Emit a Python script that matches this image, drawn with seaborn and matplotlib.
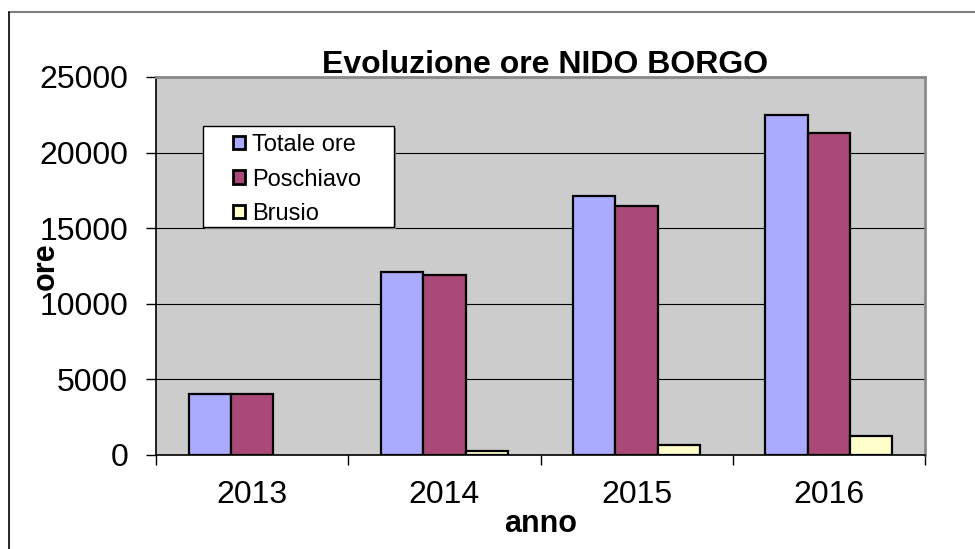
import numpy as np
import pandas as pd
import matplotlib
matplotlib.use("Agg")
import matplotlib.pyplot as plt
from matplotlib.lines import Line2D
from matplotlib.patches import Rectangle
import seaborn as sns

# values
anni = ["2013", "2014", "2015", "2016"]
totale_ore = [4060, 12130, 17120, 22490]
poschiavo = [4060, 11920, 16450, 21270]
brusio = [np.nan, 250, 680, 1270]

serie = ["Totale ore", "Poschiavo", "Brusio"]
colori = ["#AAAAFF", "#AA4977", "#FFFFCC"]

df = pd.DataFrame({
    "anno": anni * 3,
    "ore": totale_ore + poschiavo + brusio,
    "serie": [s for s in serie for _ in anni],
})

sns.set_theme(style="white")
plt.rcParams["font.family"] = ["Liberation Sans", "DejaVu Sans"]
plt.rcParams["text.color"] = "black"
plt.rcParams["xtick.color"] = "black"
plt.rcParams["ytick.color"] = "black"
plt.rcParams["axes.labelcolor"] = "black"

W, H = 975, 549
fig = plt.figure(figsize=(9.75, 5.49), dpi=100)
ax = fig.add_axes([156 / W, 1 - 455 / H, 769 / W, 378 / H])
ax.set_facecolor("#CCCCCC")

sns.barplot(data=df, x="anno", y="ore", hue="serie", hue_order=serie,
            palette=colori, saturation=1, width=0.66, edgecolor="black",
            linewidth=1.6, ax=ax, zorder=3)

ax.set_ylim(0, 25000)
ax.set_yticks(range(0, 25001, 5000))
ax.set_xlim(-0.5, 3.5)
ax.yaxis.grid(True, color="black", linewidth=0.8, zorder=0)
ax.set_axisbelow(True)

# category boundary ticks on x axis
ax.set_xticks(np.arange(-0.5, 4, 1), minor=True)
ax.tick_params(axis="x", which="major", length=0, pad=18, labelsize=23)
ax.tick_params(axis="x", which="minor", length=7, width=1, color="black", direction="out", bottom=True)
ax.tick_params(axis="y", length=7, width=1, color="black", direction="out", left=True, pad=13, labelsize=23)

for s in ["left", "bottom"]:
    ax.spines[s].set_color("black")
    ax.spines[s].set_linewidth(1.2)
for s in ["top", "right"]:
    ax.spines[s].set_color("#8A8A8A")
    ax.spines[s].set_linewidth(2)

ax.set_title("Evoluzione ore NIDO BORGO", fontsize=23, fontweight="bold", pad=3, x=0.506)
ax.set_xlabel("anno", fontsize=22, fontweight="bold", labelpad=-1)
ax.set_ylabel("ore", fontsize=22, fontweight="bold")
ax.yaxis.set_label_coords((61 - 156) / 769, 0.5)

# legend box drawn separately so the padding matches
def px(x, y):
    return (x - 156) / 769, (455 - y) / 378

bx0, by0 = px(203, 227)
bx1, by1 = px(394, 126)
ax.add_patch(Rectangle((bx0 + 0.003, by0 - 0.006), bx1 - bx0, by1 - by0, transform=ax.transAxes,
                       facecolor="#8A8A8A", edgecolor="none", zorder=4, clip_on=False))
ax.add_patch(Rectangle((bx0, by0), bx1 - bx0, by1 - by0, transform=ax.transAxes,
                       facecolor="white", edgecolor="black", linewidth=1, zorder=4, clip_on=False))

leg = ax.legend(loc="upper left", bbox_to_anchor=px(233, 134), borderaxespad=0,
                fontsize=17, frameon=False, handlelength=0.5, handleheight=0.5,
                handletextpad=0.3, labelspacing=0.53, borderpad=0, title=None)
for h in leg.legend_handles:
    h.set_linewidth(2)
leg.set_zorder(5)

# chart area border (top and left visible)
fig.add_artist(Line2D([9 / W, 1], [1 - 12 / H, 1 - 12 / H], color="#808080", linewidth=1.5))
fig.add_artist(Line2D([9 / W, 9 / W], [0, 1 - 12 / H], color="black", linewidth=1.2))

fig.savefig("out.png", dpi=100, facecolor="white")
